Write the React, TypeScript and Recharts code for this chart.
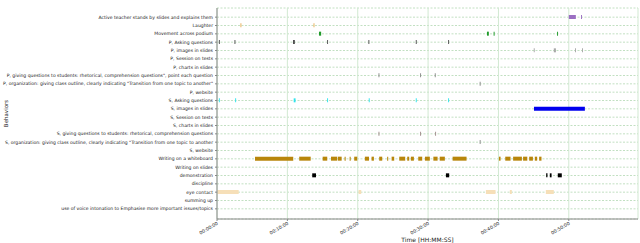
import { BarChart, Bar, Cell, XAxis, YAxis, CartesianGrid } from 'recharts';

const categories = [
  'Active teacher stands by slides and explains them',
  'Laughter',
  'Movement across podium',
  'P, Asking questions',
  'P, images in slides',
  'P, Session on tests',
  'P, charts in slides',
  'P, giving questions to students: rhetorical, comprehension questions", point each question',
  'P, organization: giving class outline, clearly indicating "Transition from one topic to another"',
  'P, website',
  'S, Asking questions',
  'S, images in slides',
  'S, Session on tests',
  'S, charts in slides',
  'S, giving questions to students: rhetorical, comprehension questions',
  'S, organization: giving class outline, clearly indicating "Transition from one topic to another',
  'S, website',
  'Writing on a whiteboard',
  'Writing on slides',
  'demonstration',
  'discipline',
  'eye contact',
  'summing up',
  'use of voice intonation to Emphasise more important issues/topics',
];

const rowColors = [
  '#9b6fc2', '#e6ad55', '#1f9a2a', '#505050', '#a8a8a8', '#888888', '#888888', '#8a8a8a',
  '#8a8a8a', '#888888', '#2ee4ec', '#0000ee', '#888888', '#888888', '#a08c8c', '#8e8e8e',
  '#888888', '#b8860b', '#888888', '#000000', '#888888', '#f6dfb8', '#888888', '#888888',
];

// [start, end] in seconds
const activeTeacher = [[3000, 3060], [3104, 3112]];
const laughter = [[200, 208], [823, 831]];
const movement = [[870, 888], [2302, 2318], [2359, 2367], [2900, 2908]];
const pAsking = [[16, 24], [149, 157], [648, 664], [939, 947], [1291, 1299], [1695, 1703], [1971, 1979]];
const pImages = [[2701, 2709], [2872, 2890], [3053, 3061], [3113, 3121]];
const pGiving = [[1377, 1385], [1732, 1740], [1857, 1865]];
const pOrganization = [[2240, 2248]];
const sAsking = [[16, 24], [155, 163], [654, 670], [939, 947], [1294, 1302], [1695, 1703], [1971, 1979]];
const sImages = [[2703, 3137]];
const sGiving = [[1377, 1385], [1732, 1740], [1860, 1868]];
const sOrganization = [[2240, 2248]];
const whiteboard = [
  [324, 650], [701, 799], [901, 940], [972, 1025], [1031, 1063], [1088, 1097], [1131, 1140],
  [1170, 1196], [1261, 1296], [1318, 1338], [1383, 1409], [1451, 1460], [1489, 1511],
  [1554, 1605], [1622, 1639], [1653, 1679], [1716, 1750], [1773, 1815], [1845, 1881],
  [1899, 1943], [2009, 2128], [2404, 2418], [2458, 2503], [2525, 2600], [2610, 2646],
  [2662, 2694], [2710, 2730], [2747, 2767],
];
const demonstration = [[812, 844], [1952, 1980], [2807, 2818], [2838, 2853], [2906, 2940]];
const eyeContact = [[3, 185], [1207, 1230], [2293, 2375], [2497, 2514], [2804, 2872]];

const rowEvents = [
  activeTeacher, laughter, movement, pAsking, pImages, [], [], pGiving, pOrganization, [],
  sAsking, sImages, [], [], sGiving, sOrganization, [], whiteboard, [], demonstration, [],
  eyeContact, [], [],
];

const timeTicks = [0, 600, 1200, 1800, 2400, 3000];

const pad = (n: number) => String(n).padStart(2, '0');
const fmtTime = (s: number) =>
  `${pad(Math.floor(s / 3600))}:${pad(Math.floor((s % 3600) / 60))}:${pad(s % 60)}`;

const data = categories.map((name, i) => {
  const row: Record<string, any> = { name };
  rowEvents[i].forEach((ev, k) => {
    row[`e${k}`] = ev;
  });
  return row;
});

const maxEvents = Math.max(...rowEvents.map((r) => r.length));

const YTick = ({ x, y, payload }: any) => (
  <text x={x} y={y} dy="0.35em" textAnchor="end" fontSize={4.55} fill="#222">
    {payload.value}
  </text>
);

const XTick = ({ x, y, payload }: any) => (
  <text
    transform={`translate(${x},${y}) rotate(-30)`}
    dy="0.6em"
    textAnchor="end"
    fontSize={4.6}
    fill="#222"
  >
    {fmtTime(payload.value)}
  </text>
);

export default function App() {
  return (
    <div style={{ position: 'absolute', left: 0, top: 0, fontFamily: 'DejaVu Sans' }}>
      <BarChart
        width={640}
        height={243}
        data={data}
        layout="vertical"
        margin={{ top: 8, right: 2, left: 0, bottom: 0 }}
        barGap={-4}
        barCategoryGap={0}
      >
        <CartesianGrid vertical={false} stroke="#c2e0c2" strokeDasharray="2 1.5" />
        <CartesianGrid horizontal={false} stroke="#d2e9d2" />
        <XAxis
          type="number"
          domain={[0, 3590]}
          allowDataOverflow
          ticks={timeTicks}
          tick={<XTick />}
          tickSize={2}
          tickMargin={1}
          height={24}
          stroke="#888"
          label={{ value: 'Time [HH:MM:SS]', position: 'insideBottom', offset: 1, fontSize: 6, fill: '#222' }}
        />
        <XAxis
          xAxisId="top"
          orientation="top"
          type="number"
          domain={[0, 3590]}
          allowDataOverflow
          ticks={timeTicks}
          tick={false}
          tickLine={false}
          height={0}
          stroke="#888"
          label={{ value: 'No focal subject', position: 'top', offset: 1.5, fontSize: 6.3, fill: '#222' }}
        />
        <YAxis
          type="category"
          dataKey="name"
          width={217}
          interval={0}
          tick={<YTick />}
          tickSize={2}
          tickMargin={2}
          padding={{ top: 5, bottom: 6 }}
          stroke="#888"
          label={{ value: 'Behaviors', angle: -90, position: 'insideLeft', offset: 6, fontSize: 5.5, fill: '#222', style: { textAnchor: 'middle' } }}
        />
        <YAxis
          yAxisId="right"
          orientation="right"
          type="category"
          dataKey="name"
          width={0}
          tick={false}
          tickLine={false}
          stroke="#888"
        />
        {Array.from({ length: maxEvents }, (_, k) => (
          <Bar key={k} dataKey={`e${k}`} barSize={4} isAnimationActive={false}>
            {categories.map((c, i) => (
              <Cell key={c} fill={rowColors[i]} />
            ))}
          </Bar>
        ))}
      </BarChart>
    </div>
  );
}
